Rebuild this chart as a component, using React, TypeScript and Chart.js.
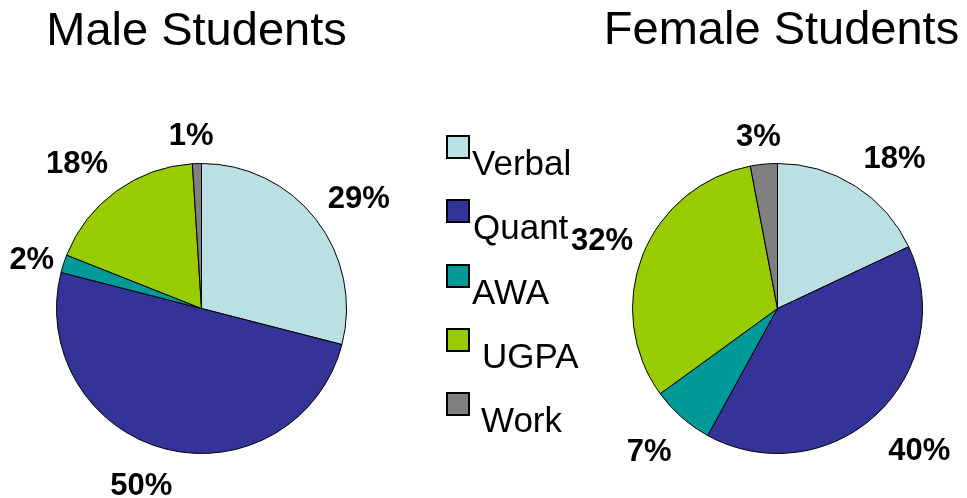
import React, { useEffect, useRef } from 'react';
import { Chart, registerables } from 'chart.js';

Chart.register(...registerables);

// ---- data ----
const categories = ['Verbal', 'Quant', 'AWA', 'UGPA', 'Work'];
const maleValues = [29, 50, 2, 18, 1];
const femaleValues = [18, 40, 7, 32, 3];
const maleTitle = 'Male Students';
const femaleTitle = 'Female Students';

// ---- styles / layout ----
const colors = ['#BBE0E3', '#333399', '#009999', '#99CC00', '#808080'];
const FONT = '"Liberation Sans", Arial, Helvetica, sans-serif';
const W = 967;
const H = 498;
const RADIUS = 145;
// small label nudges (pixels) per slice, layout only
const maleLabelNudge = [[7, 5], [-16, 3], [5, 6], [-15, 4], [-5, -4]];
const femaleLabelNudge = [[18, 4], [13, 3], [-8, 4], [3, 1], [-3, -3]];

type PieCfg = {
  values: number[];
  title: string;
  titleX: number;
  titleY: number;
  padLeft: number;
  padRight: number;
  legend: boolean;
  nudge: number[][];
};

function makePlugin(cfg: PieCfg) {
  return {
    id: 'customDraw',
    afterDraw(chart: any) {
      const ctx: CanvasRenderingContext2D = chart.ctx;
      const meta = chart.getDatasetMeta(0);
      const data: number[] = chart.data.datasets[0].data;
      const total = data.reduce((a, b) => a + b, 0);
      ctx.save();
      ctx.fillStyle = '#000';
      // title
      ctx.font = `47px ${FONT}`;
      ctx.textAlign = 'center';
      ctx.textBaseline = 'alphabetic';
      ctx.fillText(cfg.title, cfg.titleX, cfg.titleY);
      // percent labels
      ctx.font = `bold 31px ${FONT}`;
      ctx.textBaseline = 'middle';
      meta.data.forEach((arc: any, i: number) => {
        const p = arc.getProps(['x', 'y', 'startAngle', 'endAngle', 'outerRadius'], true);
        const mid = (p.startAngle + p.endAngle) / 2;
        const text = Math.round((data[i] / total) * 100) + '%';
        const w = ctx.measureText(text).width;
        const h = 22;
        const ext = Math.abs(Math.cos(mid)) * w / 2 + Math.abs(Math.sin(mid)) * h / 2;
        const r = p.outerRadius + 14 + ext;
        const n = cfg.nudge[i] || [0, 0];
        ctx.fillText(text, p.x + Math.cos(mid) * r + n[0], p.y + Math.sin(mid) * r + n[1] + 3);
      });
      // legend
      if (cfg.legend) {
        const boxX = 447;
        const top0 = 136;
        const step = 64.3;
        const indents = [0, 1, 0, 10, 9];
        ctx.font = `35px ${FONT}`;
        ctx.textAlign = 'left';
        ctx.textBaseline = 'alphabetic';
        categories.forEach((c, i) => {
          const ty = Math.round(top0 + i * step);
          ctx.fillStyle = colors[i];
          ctx.fillRect(boxX, ty, 22, 22);
          ctx.strokeStyle = '#000';
          ctx.lineWidth = 2;
          ctx.strokeRect(boxX, ty, 22, 22);
          ctx.fillStyle = '#000';
          ctx.fillText(c, 472 + indents[i], ty + 39);
        });
      }
      ctx.restore();
    },
  };
}

function PieCanvas({ cfg }: { cfg: PieCfg }) {
  const ref = useRef<HTMLCanvasElement | null>(null);
  useEffect(() => {
    if (!ref.current) return;
    const chart = new Chart(ref.current, {
      type: 'pie',
      data: {
        labels: categories,
        datasets: [
          {
            data: cfg.values,
            backgroundColor: colors,
            borderColor: '#000',
            borderWidth: 1,
          },
        ],
      },
      options: {
        animation: false,
        responsive: false,
        radius: RADIUS,
        layout: { padding: { left: cfg.padLeft, right: cfg.padRight, top: 119, bottom: 0 } },
        plugins: { legend: { display: false }, tooltip: { enabled: false } },
        events: [],
      } as any,
      plugins: [makePlugin(cfg) as any],
    });
    return () => chart.destroy();
  }, []);
  return (
    <canvas
      ref={ref}
      width={W}
      height={H}
      style={{ position: 'absolute', left: 0, top: 0, width: W, height: H, display: 'block' }}
    />
  );
}

export default function App() {
  const male: PieCfg = {
    values: maleValues,
    title: maleTitle,
    titleX: 196.5,
    titleY: 45,
    padLeft: 0,
    padRight: W - 403,
    legend: true,
    nudge: maleLabelNudge,
  };
  const female: PieCfg = {
    values: femaleValues,
    title: femaleTitle,
    titleX: 781.5,
    titleY: 44,
    padLeft: 588,
    padRight: 0,
    legend: false,
    nudge: femaleLabelNudge,
  };
  return (
    <div style={{ position: 'absolute', left: 0, top: 0, width: W, height: H, background: '#fff' }}>
      <PieCanvas cfg={male} />
      <PieCanvas cfg={female} />
    </div>
  );
}
